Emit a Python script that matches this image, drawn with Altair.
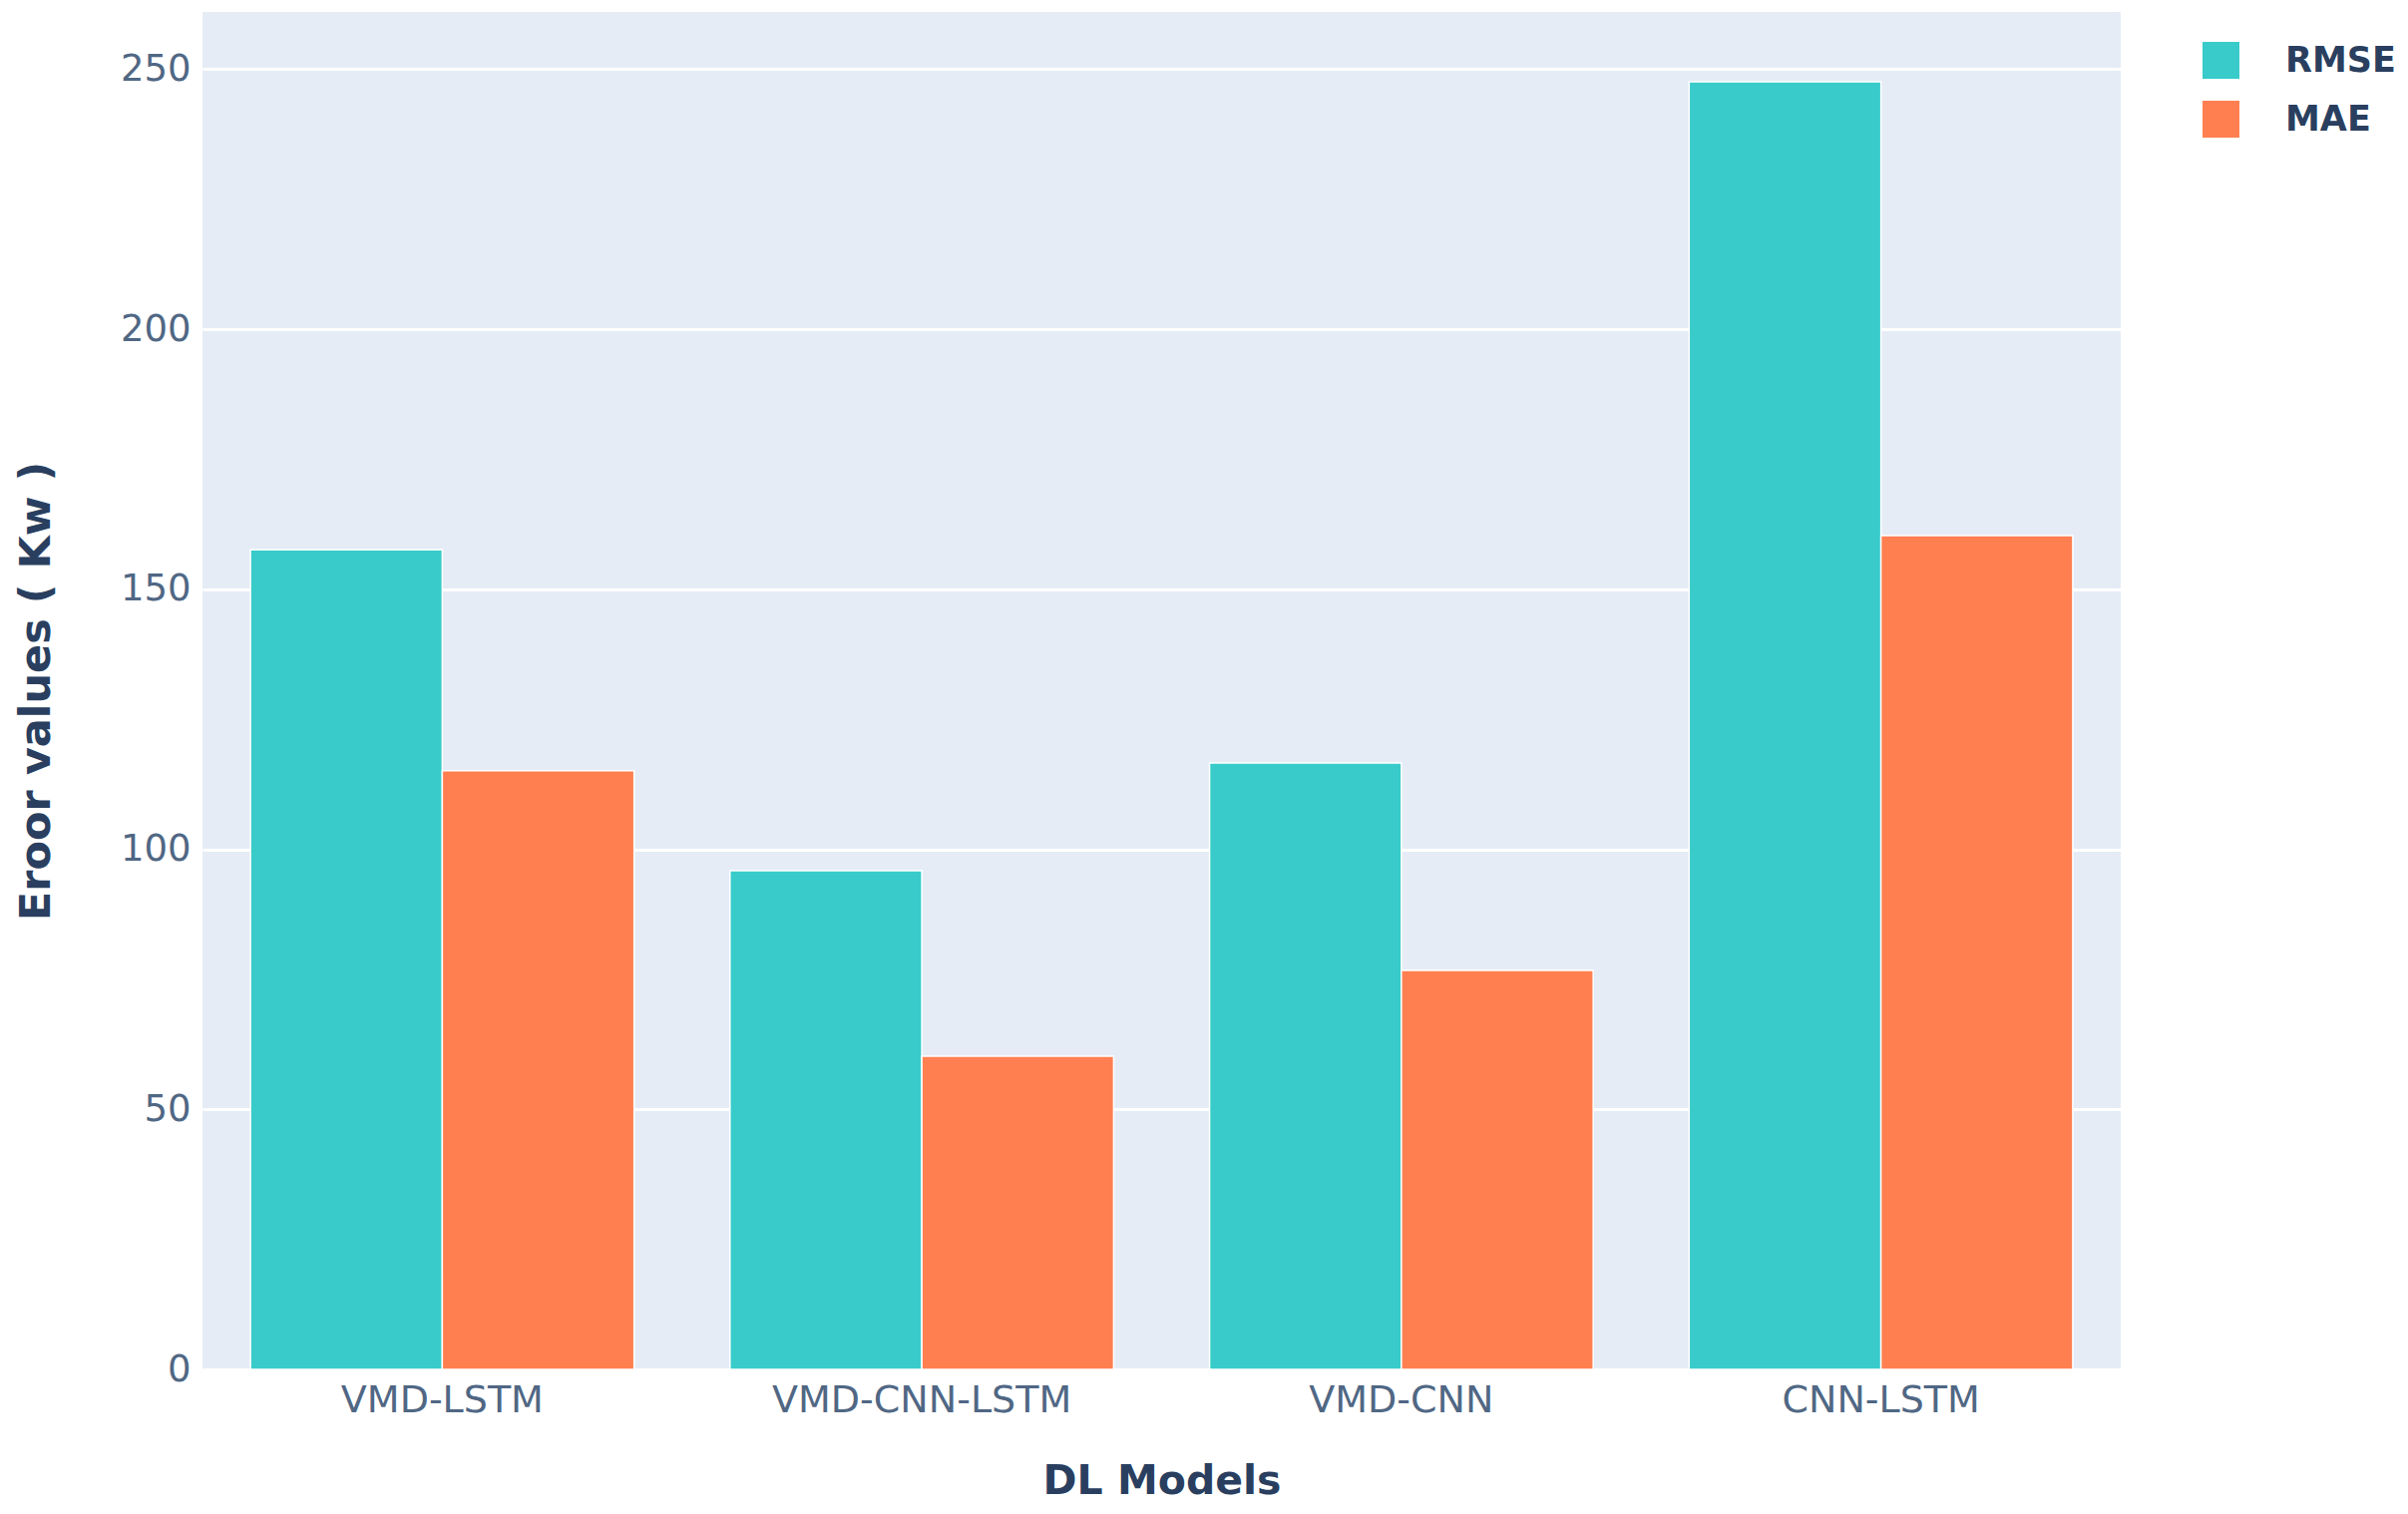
import altair as alt
import pandas as pd

models = ["VMD-LSTM", "VMD-CNN-LSTM", "VMD-CNN", "CNN-LSTM"]
rmse = [157.6, 95.9, 116.6, 247.6]
mae = [115.1, 60.2, 76.7, 160.3]
metrics = ["RMSE", "MAE"]
colors = ["#38cbca", "#ff7f50"]
y_ticks = [0, 50, 100, 150, 200, 250]

rows = []
for m, r, a in zip(models, rmse, mae):
    rows.append({"model": m, "metric": "RMSE", "value": r})
    rows.append({"model": m, "metric": "MAE", "value": a})
df = pd.DataFrame(rows)

FONT = "DejaVu Sans"
W, H = 1923, 1361

chart = alt.Chart(df).mark_bar(stroke="white", strokeWidth=1.5).encode(
    x=alt.X("model:N", sort=models,
            scale=alt.Scale(paddingInner=0.2, paddingOuter=0.1),
            axis=alt.Axis(title="DL Models", labelAngle=0, labelFont=FONT,
                          labelFontSize=38, labelColor="#506784", labelPadding=12,
                          labelLimit=600,
                          ticks=False, domain=False, grid=False,
                          titleFont=FONT, titleFontSize=41, titleFontWeight="bold",
                          titleColor="#2a3f5f", titlePadding=42)),
    xOffset=alt.XOffset("metric:N", sort=metrics),
    y=alt.Y("value:Q", scale=alt.Scale(domain=[0, 261], nice=False, zero=True),
            axis=alt.Axis(title="Eroor values ( Kw )", values=y_ticks, labelFont=FONT,
                          labelFontSize=37, labelColor="#506784", labelPadding=12,
                          ticks=False, domain=False, grid=True, gridColor="white",
                          gridWidth=3, titleFont=FONT, titleFontSize=43,
                          titleFontWeight="bold", titleColor="#2a3f5f",
                          titlePadding=62)),
    color=alt.Color("metric:N", sort=metrics,
                    scale=alt.Scale(domain=metrics, range=colors),
                    legend=alt.Legend(title=None, orient="none", legendX=W + 82,
                                      legendY=30, symbolType="square",
                                      symbolSize=1369, symbolStrokeWidth=0,
                                      labelFont=FONT, labelFontSize=35,
                                      labelFontWeight="bold", labelColor="#2a3f5f",
                                      rowPadding=22, labelOffset=46)),
).properties(
    width=W, height=H,
    autosize=alt.AutoSizeParams(type="none"),
    padding={"left": 195, "top": 4, "right": 280, "bottom": 137},
).configure_view(fill="#e5ecf6", stroke=None)

chart.save("out.html", embed_options={"renderer": "svg", "actions": False})
